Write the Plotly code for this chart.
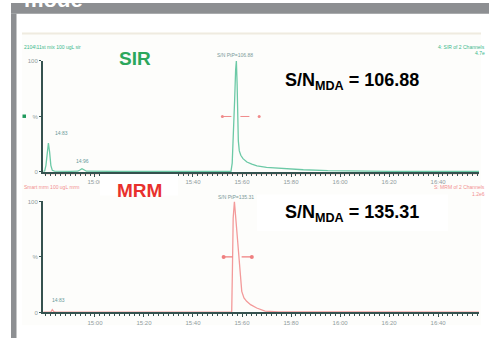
import plotly.graph_objects as go

W, H = 489, 341

# ---------------- data ----------------
sir_time = [14.790, 14.795, 14.800, 14.805, 14.810, 14.815, 14.820, 14.826, 14.835,
            14.900, 14.930, 14.940, 14.947, 14.955, 14.965, 15.100, 15.300, 15.500,
            15.555, 15.560, 15.565, 15.570, 15.574, 15.577, 15.580, 15.582, 15.585,
            15.589, 15.595, 15.604, 15.620, 15.640, 15.661, 15.700, 15.767, 15.850,
            15.950, 16.050, 16.200, 16.400, 16.570]
sir_int = [0.5, 1.0, 6.0, 18.0, 26.0, 18.0, 6.0, 1.5, 0.8,
           0.6, 0.7, 2.0, 3.0, 2.0, 0.7, 0.5, 0.4, 0.5,
           0.6, 8.0, 30.0, 65.0, 92.0, 100.0, 80.0, 45.0, 28.0,
           19.0, 15.0, 12.0, 9.0, 7.0, 5.5, 4.2, 3.0, 2.0,
           1.2, 0.8, 0.6, 0.5, 0.5]

mrm_time = [14.790, 14.820, 14.826, 14.832, 14.840, 15.000, 15.300, 15.500, 15.558,
            15.561, 15.564, 15.569, 15.575, 15.582, 15.589, 15.594, 15.599, 15.608,
            15.619, 15.635, 15.660, 15.694, 15.750, 16.000, 16.300, 16.570]
mrm_int = [0.3, 0.4, 2.5, 0.8, 0.3, 0.3, 0.3, 0.3, 0.5,
           40.0, 85.0, 100.0, 85.0, 65.0, 49.0, 32.0, 19.0, 13.0,
           10.0, 7.0, 4.0, 1.2, 0.6, 0.4, 0.3, 0.3]

noise_sir_time = [15.520, 15.670]
noise_sir_int = [50, 50]
noise_mrm_time = [15.525, 15.640]
noise_mrm_int = [50, 50]

tick_vals = [15.0, 15.2, 15.4, 15.6, 15.8, 16.0, 16.2, 16.4]
tick_text = ["15:00", "15:20", "15:40", "15:60", "15:80", "16:00", "16:20", "16:40"]
x_range = [14.788, 16.567]

# ---------------- helpers (layout only) ----------------
def fx(px):
    return px / W

def fy(py):
    return 1 - py / H

GREEN_TRACE = "#6cc9a6"
PINK_TRACE = "#f39a9a"
AXIS = "#35524f"
TICKFONT = dict(family="Liberation Sans, Arial", size=6, color="#8f9c9c")

fig = go.Figure()
fig.add_trace(go.Scatter(x=sir_time, y=sir_int, mode="lines",
                         line=dict(color=GREEN_TRACE, width=1.3), xaxis="x", yaxis="y",
                         hoverinfo="skip"))
fig.add_trace(go.Scatter(x=noise_sir_time, y=noise_sir_int, mode="lines+markers",
                         line=dict(color="#f08a8a", width=1, dash="dash"),
                         marker=dict(size=3, color="#f08a8a"), xaxis="x", yaxis="y",
                         hoverinfo="skip"))
fig.add_trace(go.Scatter(x=mrm_time, y=mrm_int, mode="lines",
                         line=dict(color=PINK_TRACE, width=1.3), xaxis="x2", yaxis="y2",
                         hoverinfo="skip"))
fig.add_trace(go.Scatter(x=noise_mrm_time, y=noise_mrm_int, mode="lines+markers",
                         line=dict(color="#ef7f7f", width=1.2, dash="dash"),
                         marker=dict(size=4, color="#ef7f7f"), xaxis="x2", yaxis="y2",
                         hoverinfo="skip"))

xaxis_common = dict(range=x_range, showline=True, linecolor=AXIS, linewidth=2,
                    showgrid=False, zeroline=False, ticks="outside", ticklen=3,
                    tickcolor=AXIS, tickvals=tick_vals, ticktext=tick_text,
                    tickfont=TICKFONT,
                    minor=dict(ticks="outside", dtick=0.02, tick0=15.0, ticklen=2,
                               tickcolor=AXIS, showgrid=False))
yaxis_common = dict(range=[0, 100], showline=True, linecolor=AXIS, linewidth=2,
                    showgrid=False, zeroline=False, ticks="outside", ticklen=2,
                    tickcolor=AXIS, tickvals=[0, 50, 100], ticktext=["0", "%", "100"],
                    tickfont=TICKFONT)

fig.update_layout(
    width=W, height=H,
    margin=dict(l=0, r=0, t=0, b=0),
    paper_bgcolor="white",
    plot_bgcolor="rgba(0,0,0,0)",
    showlegend=False,
    xaxis=dict(domain=[fx(43), fx(479)], anchor="y", **xaxis_common),
    yaxis=dict(domain=[fy(172), fy(59)], anchor="x", **yaxis_common),
    xaxis2=dict(domain=[fx(43), fx(479)], anchor="y2", **xaxis_common),
    yaxis2=dict(domain=[fy(315), fy(202)], anchor="x2", **yaxis_common),
)

shapes = [
    # gray frame
    dict(type="rect", xref="paper", yref="paper", x0=fx(11), x1=fx(489), y0=fy(11), y1=fy(0),
         fillcolor="#8d8f92", line=dict(width=0), layer="below"),
    dict(type="rect", xref="paper", yref="paper", x0=fx(11), x1=fx(16.5), y0=fy(341), y1=fy(11),
         fillcolor="#8d8f92", line=dict(width=0), layer="below"),
    # chromatogram image background
    dict(type="rect", xref="paper", yref="paper", x0=fx(22), x1=fx(481), y0=fy(328), y1=fy(30),
         fillcolor="#fdfdfb", line=dict(width=0), layer="below"),
    dict(type="line", xref="paper", yref="paper", x0=fx(22), x1=fx(481), y0=fy(31), y1=fy(31),
         line=dict(color="#efebe0", width=2), layer="below"),
    # pink header line for MRM panel
    dict(type="line", xref="paper", yref="paper", x0=fx(44), x1=fx(479), y0=fy(174), y1=fy(174),
         line=dict(color="#f6c0c0", width=1), layer="below"),
    # white label boxes
    dict(type="rect", xref="paper", yref="paper", x0=fx(100), x1=fx(178), y0=fy(196), y1=fy(174),
         fillcolor="white", line=dict(width=0), layer="above"),
    dict(type="rect", xref="paper", yref="paper", x0=fx(257), x1=fx(448), y0=fy(232), y1=fy(195),
         fillcolor="white", line=dict(width=0), layer="above"),
    # small green marker on SIR panel
    dict(type="rect", xref="paper", yref="paper", x0=fx(22.5), x1=fx(26), y0=fy(117), y1=fy(113.5),
         fillcolor="#1f9a5c", line=dict(width=0)),
]
fig.update_layout(shapes=shapes)

def ann(text, x, y, size, color, bold=False, xanchor="center", yanchor="middle",
        family="Liberation Sans, Arial"):
    return dict(text=(f"<b>{text}</b>" if bold else text), xref="paper", yref="paper",
                x=fx(x), y=fy(y), xanchor=xanchor, yanchor=yanchor, showarrow=False,
                font=dict(family=family, size=size, color=color))

small = 5
annotations = [
    ann("mode", 22, -4, 22, "white", bold=True, xanchor="left"),
    ann("SIR", 135, 57, 19, "#2ca75c", bold=True),
    ann("MRM", 139, 191, 19, "#e8312d", bold=True),
    ann("S/N<sub>MDA</sub> = 106.88", 283, 80, 18, "black", bold=True, xanchor="left"),
    ann("S/N<sub>MDA</sub> = 135.31", 283, 214, 18, "black", bold=True, xanchor="left"),
    ann("2104\\11st mix 100 ugL sir", 22, 45, small, "#3cb88c", xanchor="left"),
    ann("4: SIR of 2 Channels", 487, 45, small, "#3cb88c", xanchor="right"),
    ann("4.7e", 487, 51, small, "#3cb88c", xanchor="right"),
    ann("S/N PtP=106.88", 235, 53, small, "#7a9a9a"),
    ann("14:83", 53, 132, small, "#6a9a9a", xanchor="left"),
    ann("14:96", 82, 161, small, "#6a9a9a"),
    ann("Smart mrm 100 ugL mrm", 22, 187, small, "#f29090", xanchor="left"),
    ann("S: MRM of 2 Channels", 487, 187.5, small, "#f29090", xanchor="right"),
    ann("1.2e6", 487, 194, small, "#f29090", xanchor="right"),
    ann("S/N PtP=135.31", 236, 197, small, "#7a9a9a"),
    ann("14:83", 50, 302, small, "#6a9a9a", xanchor="left"),
]
fig.update_layout(annotations=annotations)

fig.write_html(
    "out.html",
    config={"displayModeBar": False},
    post_script=(
        "var d=document.documentElement;d.style.margin='0';d.style.padding='0';"
        "d.style.overflow='hidden';document.body.style.margin='0';"
        "document.body.style.padding='0';document.body.style.overflow='hidden';"
        "window.scrollTo(0,0);"
    ),
)
